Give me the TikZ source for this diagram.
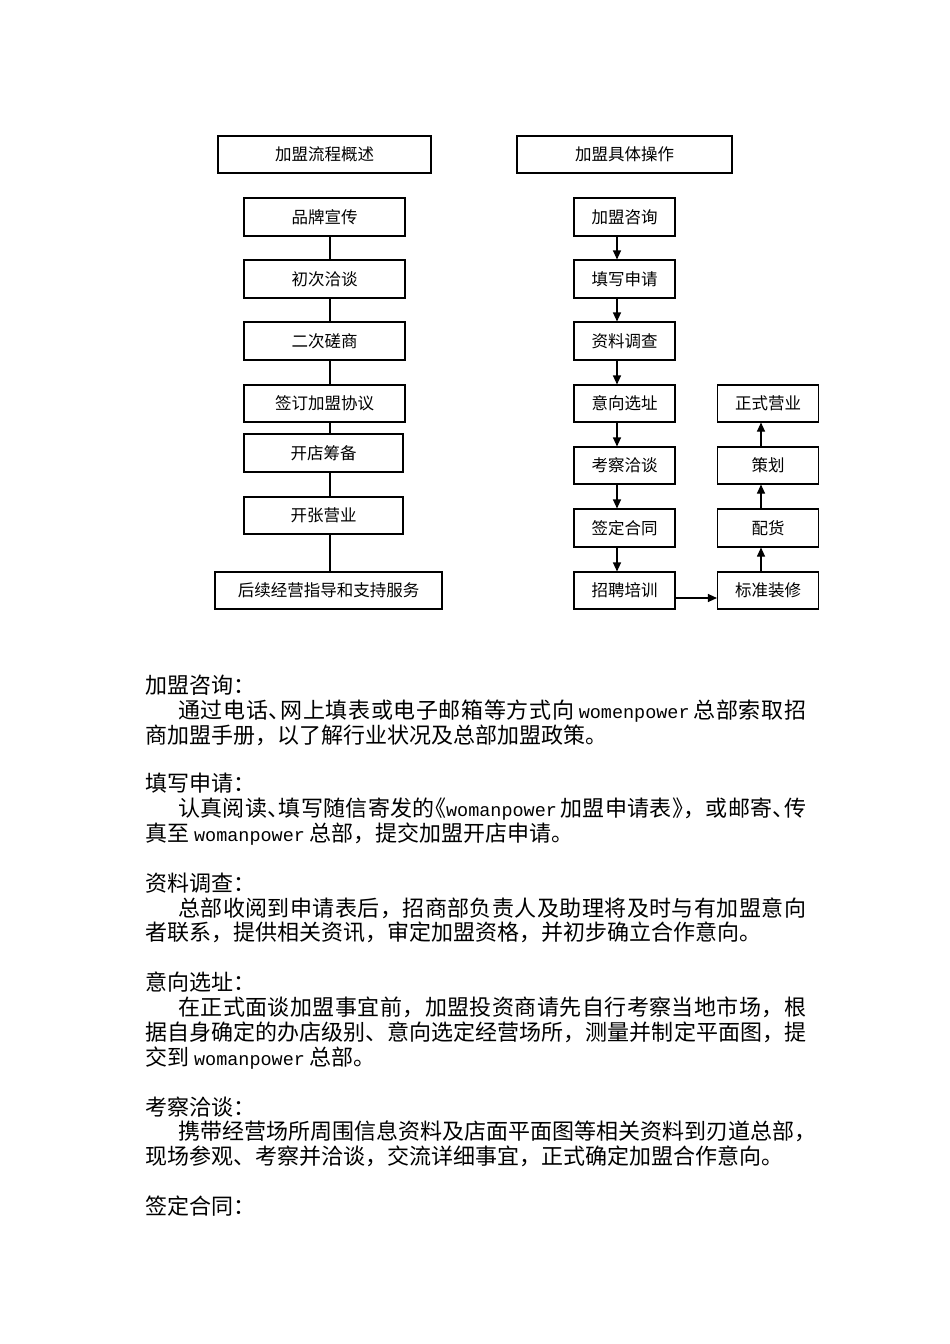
\documentclass[tikz,border=0pt]{standalone}
\usepackage{fontspec}
\setmainfont{Noto Sans CJK SC}
\newfontfamily\latinmono{Liberation Mono}[Scale=0.84]
\usetikzlibrary{arrows.meta}
\newcommand{\hdun}{\makebox[0.5em][l]{、}}
\newcommand{\hlq}{\makebox[0.5em][r]{《}}
\newcommand{\hrq}{\makebox[0.5em][l]{》}}
\newcommand{\wpx}[1]{{\latinmono #1}}
\newcommand{\gp}{\hskip 0.15em plus 1fil\relax}
\def\spr#1{\ifx#1\relax\else#1\hskip 0pt plus 1fil\relax\expandafter\spr\fi}
\tikzset{
  box/.style={draw, line width=1.1pt, rectangle, inner sep=0pt,
    font=\fontsize{16.5}{18}\selectfont, text height=14pt, text depth=2pt},
  conn/.style={line width=1.1pt},
  arr/.style={line width=1.1pt, -{Triangle[length=9pt,width=8pt]}},
  body/.style={anchor=base west, inner sep=0pt, font=\fontsize{22}{26}\selectfont}
}
\begin{document}
\begin{tikzpicture}[x=1pt,y=-1pt]
\useasboundingbox[fill=white] (0,0) rectangle (950,1344);
% titles
\node[box, minimum width=213pt, minimum height=37pt] (T1) at (324.5,154.5) {加盟流程概述};
\node[box, minimum width=215pt, minimum height=37pt] (T2) at (624.5,154.5) {加盟具体操作};
% left column
\node[box, minimum width=161pt, minimum height=38pt] (L1) at (324.5,217) {品牌宣传};
\node[box, minimum width=161pt, minimum height=38pt] (L2) at (324.5,279) {初次洽谈};
\node[box, minimum width=161pt, minimum height=38pt] (L3) at (324.5,341) {二次磋商};
\node[box, minimum width=161pt, minimum height=37pt] (L4) at (324.5,403.5) {签订加盟协议};
\node[box, minimum width=159pt, minimum height=38pt] (L5) at (323.5,453) {开店筹备};
\node[box, minimum width=159pt, minimum height=37pt] (L6) at (323.5,515.5) {开张营业};
\node[box, minimum width=227pt, minimum height=37pt] (L7) at (328.5,590.5) {后续经营指导和支持服务};
\coordinate (lx) at (330,0);
\draw[conn] (L1.south -| lx) -- (L2.north -| lx);
\draw[conn] (L2.south -| lx) -- (L3.north -| lx);
\draw[conn] (L3.south -| lx) -- (L4.north -| lx);
\draw[conn] (L4.south -| lx) -- (L5.north -| lx);
\draw[conn] (L5.south -| lx) -- (L6.north -| lx);
\draw[conn] (L6.south -| lx) -- (L7.north -| lx);
% right column
\node[box, minimum width=101pt, minimum height=38pt] (R1) at (624.5,217) {加盟咨询};
\node[box, minimum width=101pt, minimum height=38pt] (R2) at (624.5,279) {填写申请};
\node[box, minimum width=101pt, minimum height=38pt] (R3) at (624.5,341) {资料调查};
\node[box, minimum width=101pt, minimum height=37pt] (R4) at (624.5,403.5) {意向选址};
\node[box, minimum width=101pt, minimum height=37pt] (R5) at (624.5,465.5) {考察洽谈};
\node[box, minimum width=101pt, minimum height=38pt] (R6) at (624.5,528) {签定合同};
\node[box, minimum width=101pt, minimum height=37pt] (R7) at (624.5,590.5) {招聘培训};
\node[box, minimum width=101pt, minimum height=37pt] (S1) at (768,590.5) {标准装修};
\node[box, minimum width=101pt, minimum height=38pt] (S2) at (768,528) {配货};
\node[box, minimum width=101pt, minimum height=37pt] (S3) at (768,465.5) {策划};
\node[box, minimum width=101pt, minimum height=37pt] (S4) at (768,403.5) {正式营业};
\coordinate (rx) at (617,0);
\coordinate (sx) at (761,0);
\coordinate (hy) at (0,598);
\draw[arr] (R1.south -| rx) -- (R2.north -| rx);
\draw[arr] (R2.south -| rx) -- (R3.north -| rx);
\draw[arr] (R3.south -| rx) -- (R4.north -| rx);
\draw[arr] (R4.south -| rx) -- (R5.north -| rx);
\draw[arr] (R5.south -| rx) -- (R6.north -| rx);
\draw[arr] (R6.south -| rx) -- (R7.north -| rx);
\draw[arr] (R7.east |- hy) -- (S1.west |- hy);
\draw[arr] (S1.north -| sx) -- (S2.south -| sx);
\draw[arr] (S2.north -| sx) -- (S3.south -| sx);
\draw[arr] (S3.north -| sx) -- (S4.south -| sx);
% body text
\node[body] (p1h) at (145,693) {加盟咨询：};
\node[body] (p1a) at (178,718) {\makebox[628pt][s]{\spr 通过电话\relax\hdun\hskip 0pt plus 1fil\spr 网上填表或电子邮箱等方式向\relax\gp\wpx{womenpower}\gp\spr 总部索取招\relax\unskip}};
\node[body] (p1b) at (145,743) {商加盟手册，以了解行业状况及总部加盟政策。};
\node[body] (p2h) at (145,791) {填写申请：};
\node[body] (p2a) at (178,816) {\makebox[628pt][s]{\spr 认真阅读\relax\hdun\hskip 0pt plus 1fil\spr 填写随信寄发的\relax\hlq\wpx{womanpower}\gp\spr 加盟申请表\relax\hrq\hskip 0pt plus 1fil\spr ，或邮寄\relax\hdun\hskip 0pt plus 1fil 传}};
\node[body] (p2b) at (145,841) {真至 \wpx{womanpower} 总部，提交加盟开店申请。};
\node[body] (p3h) at (145,891) {资料调查：};
\node[body] (p3a) at (178,916) {\makebox[628pt][s]{\spr 总部收阅到申请表后，招商部负责人及助理将及时与有加盟意向\relax\unskip}};
\node[body] (p3b) at (145,940) {者联系，提供相关资讯，审定加盟资格，并初步确立合作意向。};
\node[body] (p4h) at (145,990) {意向选址：};
\node[body] (p4a) at (178,1015) {\makebox[628pt][s]{\spr 在正式面谈加盟事宜前，加盟投资商请先自行考察当地市场，根\relax\unskip}};
\node[body] (p4b) at (145,1040) {\makebox[661pt][s]{\spr 据自身确定的办店级别、意向选定经营场所，测量并制定平面图，提\relax\unskip}};
\node[body] (p4c) at (145,1065) {交到 \wpx{womanpower} 总部。};
\node[body] (p5h) at (145,1115) {考察洽谈：};
\node[body] (p5a) at (178,1139) {携带经营场所周围信息资料及店面平面图等相关资料到刃道总部，};
\node[body] (p5b) at (145,1164) {现场参观、考察并洽谈，交流详细事宜，正式确定加盟合作意向。};
\node[body] (p6h) at (145,1214) {签定合同：};
\end{tikzpicture}
\end{document}
